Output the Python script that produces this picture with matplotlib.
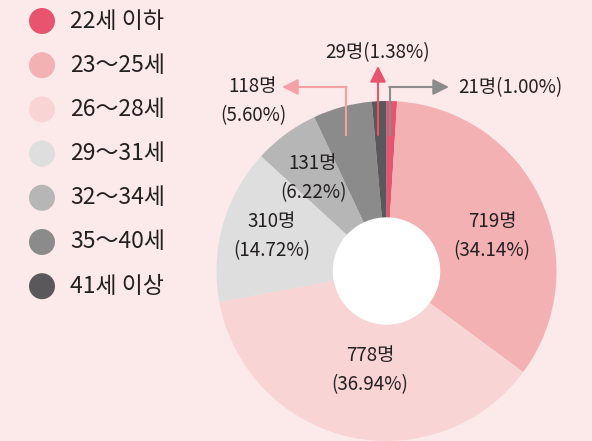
import matplotlib.pyplot as plt
from matplotlib.patches import Circle

plt.rcParams['font.family'] = ['Noto Sans CJK KR', 'DejaVu Sans']

labels = ['22세 이하', '23～25세', '26～28세', '29～31세', '32～34세', '35～40세', '41세 이상']
counts = [21, 719, 778, 310, 131, 118, 29]
pcts = [1.00, 34.14, 36.94, 14.72, 6.22, 5.60, 1.38]
colors = ['#e8546e', '#f4b1b3', '#f8d4d4', '#dddedd', '#b5b6b5', '#8b8b8b', '#5a585a']

BG = '#fce9e9'
TXT = '#231f20'
W, H = 592, 441

fig = plt.figure(figsize=(W / 100, H / 100), dpi=100, facecolor=BG)
ax = fig.add_axes([0, 0, 1, 1])
ax.set_facecolor(BG)

cx, cy, r = 386.5, H - 271, 170
ax.pie(counts, colors=colors, startangle=90, counterclock=False,
       center=(cx, cy), radius=r, wedgeprops=dict(linewidth=0))
ax.add_patch(Circle((cx, cy), 53, color='white', zorder=3))

ax.set_xlim(0, W)
ax.set_ylim(0, H)
ax.set_aspect('equal')
ax.axis('off')

# legend
for i, (lab, col) in enumerate(zip(labels, colors)):
    y = H - (21 + i * 44.2)
    ax.add_patch(Circle((42, y), 13, color=col, linewidth=0))
    ax.text(70, y, lab, fontsize=16.5, color=TXT, va='center', ha='left')

# labels inside the donut
inner = {1: (492, 236), 2: (370, 370), 3: (272, 236), 4: (313, 178)}
for i, (x, y) in inner.items():
    ax.text(x, H - y, f'{counts[i]}명\n({pcts[i]:.2f}%)', fontsize=13.5,
            color=TXT, ha='center', va='center', linespacing=1.55, zorder=4)

# outside labels with arrows
fs = 13.5
ax.text(253, H - 101, f'{counts[5]}명\n({pcts[5]:.2f}%)', fontsize=fs,
        color=TXT, ha='center', va='center', linespacing=1.55)
ax.text(378, H - 53, f'{counts[6]}명({pcts[6]:.2f}%)', fontsize=fs,
        color=TXT, ha='center', va='center')
ax.text(458, H - 88, f'{counts[0]}명({pcts[0]:.2f}%)', fontsize=fs,
        color=TXT, ha='left', va='center')

head = dict(arrowstyle='-|>,head_length=0.8,head_width=0.4', mutation_scale=12,
            shrinkA=0, shrinkB=0, lw=1.5)

ax.plot([346, 346], [H - 135, H - 87], color='#f4a0a5', lw=1.5, zorder=5)
ax.annotate('', xy=(282, H - 87), xytext=(346.7, H - 87),
            arrowprops=dict(head, color='#f4a0a5'), zorder=5)

ax.annotate('', xy=(378, H - 66), xytext=(378, H - 135),
            arrowprops=dict(head, color='#e8546e'), zorder=5)

ax.plot([390, 390], [H - 135, H - 87], color='#8b8b8b', lw=1.5, zorder=5)
ax.annotate('', xy=(449, H - 87), xytext=(389.3, H - 87),
            arrowprops=dict(head, color='#8b8b8b'), zorder=5)

fig.savefig('out.png', dpi=100, facecolor=BG)
